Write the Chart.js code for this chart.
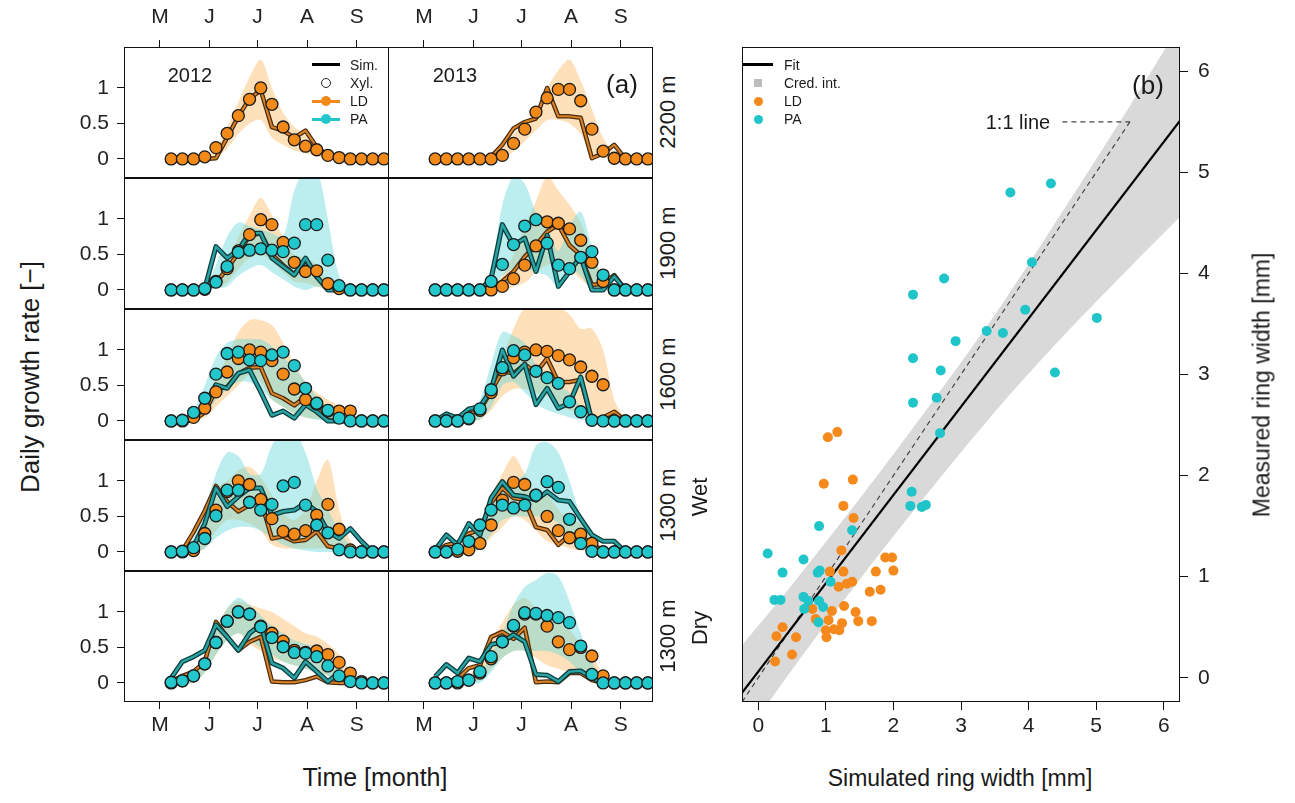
<!DOCTYPE html>
<html>
<head>
<meta charset="utf-8">
<script src="https://cdn.jsdelivr.net/npm/chart.js@4.4.1/dist/chart.umd.min.js"></script>
<style>
body { margin: 0; background: #fff; width: 1295px; height: 803px; overflow: hidden; position: relative;
  font-family: "Liberation Sans", Arial, sans-serif; color: #1a1a1a; }
canvas { position: absolute; z-index: 1; }
.t { position: absolute; white-space: nowrap; transform: translate(-50%, -50%); z-index: 2; }
.r { transform: translate(-50%, -50%) rotate(-90deg); }
.l { position: absolute; white-space: nowrap; transform: translateY(-50%); font-size: 14px; z-index: 2; }
.sym { position: absolute; z-index: 2; }
</style>
</head>
<body>

<div class="t r" style="left:30px;top:377px;font-size:26px">Daily growth rate [−]</div>
<div class="t" style="left:375px;top:777px;font-size:25px">Time [month]</div>
<div class="t" style="left:190px;top:75px;font-size:20px">2012</div>
<div class="t" style="left:455px;top:75px;font-size:20px">2013</div>
<div class="t" style="left:622px;top:84px;font-size:26px">(a)</div>

<div class="t r" style="left:668px;top:112px;font-size:22px">2200 m</div>
<div class="t r" style="left:668px;top:243px;font-size:22px">1900 m</div>
<div class="t r" style="left:668px;top:374px;font-size:22px">1600 m</div>
<div class="t r" style="left:668px;top:505px;font-size:22px">1300 m</div>
<div class="t r" style="left:700px;top:497px;font-size:22px">Wet</div>
<div class="t r" style="left:668px;top:636px;font-size:22px">1300 m</div>
<div class="t r" style="left:700px;top:628px;font-size:22px">Dry</div>

<!-- legend (a) -->
<div class="sym" style="left:312px;top:63px;width:28px;height:3px;background:#000"></div>
<div class="sym" style="left:321px;top:78px;width:10px;height:10px;border:1.5px solid #222;border-radius:50%;box-sizing:border-box"></div>
<div class="sym" style="left:312px;top:100px;width:28px;height:3px;background:#F28A1A"></div>
<div class="sym" style="left:321px;top:96px;width:10px;height:10px;background:#F28A1A;border-radius:50%"></div>
<div class="sym" style="left:312px;top:118px;width:28px;height:3px;background:#22C7CB"></div>
<div class="sym" style="left:321px;top:114px;width:10px;height:10px;background:#22C7CB;border-radius:50%"></div>
<div class="l" style="left:350px;top:65px">Sim.</div>
<div class="l" style="left:350px;top:83px">Xyl.</div>
<div class="l" style="left:350px;top:101px">LD</div>
<div class="l" style="left:350px;top:119px">PA</div>

<!-- panel (b) texts -->
<div class="t" style="left:1148px;top:85px;font-size:26px">(b)</div>
<div class="t" style="left:1018px;top:122px;font-size:20px">1:1 line</div>
<div class="t" style="left:960px;top:778px;font-size:23px">Simulated ring width [mm]</div>
<div class="t r" style="left:1262px;top:385px;font-size:23px">Measured ring width [mm]</div>

<div class="sym" style="left:743px;top:63px;width:30px;height:3px;background:#000"></div>
<div class="sym" style="left:754px;top:79px;width:8px;height:8px;background:#bdbdbd"></div>
<div class="sym" style="left:754px;top:97px;width:9px;height:9px;background:#F5891C;border-radius:50%"></div>
<div class="sym" style="left:754px;top:115px;width:9px;height:9px;background:#1FC5C9;border-radius:50%"></div>
<div class="l" style="left:784px;top:65px">Fit</div>
<div class="l" style="left:784px;top:83px">Cred. int.</div>
<div class="l" style="left:784px;top:101px">LD</div>
<div class="l" style="left:784px;top:119px">PA</div>

<script>
// ---- panel (a): weekly xylogenesis observations and simulations ----
const weekDoy = [128, 135, 142, 149, 156, 163, 170, 177, 184, 191, 198, 205, 212, 219, 226, 233, 240, 247, 254, 261];
const monthTickDoy = [121, 152, 182, 213, 244];
const monthLabels = ['M', 'J', 'J', 'A', 'S'];
const growthTicks = [0, 0.5, 1];
const growthTickLabels = ['0', '0.5', '1'];

// rows: 2200 m, 1900 m, 1600 m, 1300 m wet, 1300 m dry
const ldObs2012 = [
  [0,0,0,0.03,0.16,0.36,0.61,0.84,1.0,0.77,0.45,0.27,0.18,0.13,0.05,0.02,0,0,0,0],
  [0,0,0,0.01,0.12,0.3,0.55,0.78,0.99,0.92,0.67,0.39,0.26,0.27,0.09,0.02,0,0,0,0],
  [0,0,0.05,0.18,0.41,0.69,0.88,1.0,0.97,0.85,0.66,0.45,0.3,0.24,0.14,0.14,0.14,0,0,0],
  [0,0,0.02,0.26,0.59,0.85,1.0,0.95,0.74,0.47,0.29,0.25,0.3,0.52,0.67,0.32,0.03,0,0,0],
  [0,0.03,0.1,0.27,0.57,0.87,1.0,0.97,0.8,0.7,0.59,0.46,0.43,0.45,0.4,0.29,0.14,0.02,0,0]
];
const paObs2012 = [
  null,
  [0,0,0,0.02,0.11,0.33,0.53,0.56,0.58,0.56,0.54,0.66,0.92,0.92,0.42,0.06,0,0,0,0],
  [0,0.01,0.12,0.32,0.66,0.95,0.97,0.86,0.85,0.93,0.97,0.78,0.46,0.25,0.15,0.04,0,0,0,0],
  [0,0.01,0.06,0.19,0.51,0.87,0.87,0.7,0.59,0.67,0.93,0.98,0.66,0.38,0.27,0.03,0,0,0,0],
  [0.01,0.03,0.1,0.27,0.57,0.87,1.0,0.97,0.79,0.64,0.51,0.43,0.42,0.37,0.24,0.1,0.02,0,0,0]
];
const ldSim2012 = [
  [0,0,0,0,0.01,0.3,0.6,0.85,0.97,0.45,0.4,0.3,0.4,0.17,0.05,0.01,0,0,0,0],
  [0,0,0,0.01,0.1,0.3,0.52,0.76,0.8,0.5,0.35,0.22,0.42,0.18,0.02,0,0,0,0,0],
  [0,0,0.01,0.12,0.44,0.48,0.67,0.75,0.76,0.39,0.32,0.22,0.34,0.18,0.01,0,0,0,0,0],
  [0,0.02,0.28,0.58,0.93,0.71,0.57,0.66,0.73,0.19,0.22,0.15,0.17,0.29,0.08,0.05,0.02,0,0,0],
  [0.02,0.1,0.16,0.3,0.86,0.65,0.46,0.58,0.65,0.02,0.01,0.01,0.04,0.09,0.01,0,0,0,0,0]
];
const paSim2012 = [
  null,
  [0,0,0,0.02,0.61,0.45,0.56,0.8,0.8,0.45,0.33,0.21,0.45,0.19,0,0,0,0,0,0],
  [0,0,0.01,0.23,0.51,0.46,0.67,0.72,0.41,0.08,0.14,0.04,0.23,0.13,0,0,0,0,0,0],
  [0,0,0.08,0.4,0.9,0.64,0.78,0.9,0.9,0.52,0.57,0.59,0.69,0.57,0.29,0.19,0.33,0.15,0,0],
  [0.07,0.3,0.37,0.46,0.82,0.65,0.46,0.7,0.82,0.28,0.21,0.07,0.3,0.16,0.02,0.14,0.02,0,0,0]
];
const ldHi2012 = [
  [0,0,0,0.02,0.15,0.45,0.8,1.15,1.4,1.0,0.65,0.45,0.35,0.2,0.08,0.02,0,0,0,0],
  [0,0,0,0.02,0.1,0.4,0.75,1.05,1.3,1.05,0.75,0.5,0.45,0.35,0.12,0.03,0,0,0,0],
  [0,0,0.05,0.3,0.6,0.9,1.25,1.42,1.42,1.35,1.1,0.8,0.55,0.4,0.3,0.22,0.12,0.02,0,0],
  [0,0,0.15,0.5,0.9,1.0,1.15,1.2,1.05,0.8,0.55,0.45,0.6,1.0,1.3,0.6,0.15,0.03,0,0],
  [0,0,0.15,0.4,0.75,1.05,1.15,1.1,1.05,1.0,0.9,0.8,0.7,0.65,0.55,0.4,0.15,0.02,0,0]
];
const ldLo2012 = [
  [0,0,0,0,0.02,0.15,0.35,0.5,0.55,0.3,0.2,0.12,0.08,0.04,0.01,0,0,0,0,0],
  [0,0,0,0,0.02,0.1,0.3,0.45,0.5,0.4,0.25,0.12,0.1,0.05,0.01,0,0,0,0,0],
  [0,0,0,0.05,0.2,0.35,0.5,0.65,0.55,0.3,0.2,0.1,0.05,0.03,0.02,0.01,0,0,0,0],
  [0,0,0,0.05,0.3,0.45,0.45,0.4,0.3,0.1,0.05,0.05,0.05,0.05,0.05,0.02,0,0,0,0],
  [0,0,0,0.15,0.4,0.6,0.7,0.55,0.45,0.35,0.3,0.25,0.2,0.15,0.1,0.05,0,0,0,0]
];
const paHi2012 = [
  null,
  [0,0,0,0.05,0.35,0.75,0.95,0.9,0.85,0.8,0.75,1.4,1.7,1.7,1.0,0.2,0.02,0,0,0],
  [0,0.02,0.15,0.5,0.9,1.1,1.15,1.15,1.15,1.05,0.9,0.75,0.55,0.35,0.15,0.05,0,0,0,0],
  [0,0,0.2,0.6,1.1,1.4,1.35,1.1,1.1,1.5,1.7,1.7,1.4,0.9,0.6,0.3,0.1,0.02,0,0],
  [0,0,0.15,0.4,0.75,1.05,1.2,1.1,0.95,0.8,0.7,0.6,0.55,0.5,0.35,0.2,0.05,0,0,0]
];
const paLo2012 = [
  null,
  [0,0,0,0,0.02,0.05,0.2,0.3,0.35,0.25,0.15,0.05,0,0.05,0,0,0,0,0,0],
  [0,0,0,0.1,0.3,0.45,0.55,0.55,0.45,0.3,0.2,0.1,0.05,0.02,0,0,0,0,0,0],
  [0,0,0,0.05,0.2,0.3,0.35,0.35,0.3,0.2,0.1,0.05,0.02,0,0,0,0,0,0,0],
  [0,0,0,0.15,0.4,0.6,0.7,0.6,0.5,0.4,0.3,0.25,0.2,0.15,0.1,0.03,0,0,0,0]
];

const ldObs2013 = [
  [0,0,0,0,0,0,0.05,0.22,0.42,0.66,0.86,0.98,0.98,0.82,0.42,0.11,0.01,0,0,0],
  [0,0,0,0,0,0,0.05,0.16,0.35,0.62,0.96,0.94,0.86,0.7,0.39,0.12,0,0,0,0],
  [0,0,0,0.03,0.15,0.4,0.72,0.89,0.97,1.0,0.98,0.92,0.86,0.76,0.63,0.51,0,0,0,0],
  [0,0,0.01,0.03,0.12,0.38,0.73,0.98,0.95,0.8,0.5,0.3,0.2,0.25,0.12,0,0,0,0,0],
  [0,0,0,0.04,0.14,0.34,0.58,0.8,0.97,0.97,0.8,0.58,0.47,0.5,0.38,0.1,0,0,0,0]
];
const paObs2013 = [
  null,
  [0,0,0,0,0,0.12,0.36,0.64,0.9,0.99,0.66,0.35,0.3,0.46,0.54,0.21,0,0,0,0],
  [0,0,0,0.04,0.17,0.44,0.75,0.99,0.93,0.7,0.61,0.53,0.27,0.13,0.01,0,0,0,0,0],
  [0,0,0.04,0.15,0.38,0.59,0.66,0.62,0.66,0.8,0.99,0.91,0.46,0.12,0.01,0,0,0,0,0],
  [0,0,0.02,0.04,0.16,0.37,0.58,0.81,0.99,0.98,0.95,0.92,0.85,0.52,0.12,0,0,0,0,0]
];
const ldSim2013 = [
  [0,0,0,0,0,0.03,0.2,0.43,0.52,0.57,1.0,0.6,0.6,0.58,0.01,0.08,0.2,0,0,0],
  [0,0,0,0,0,0,0.12,0.26,0.47,0.63,0.82,0.92,0.63,0.49,0.07,0.09,0.21,0,0,0],
  [0,0.03,0.02,0.1,0.15,0.42,0.7,0.67,0.8,0.68,0.88,0.55,0.55,0.58,0.01,0.05,0.13,0,0,0],
  [0,0.1,0.13,0.26,0.31,0.69,0.9,0.76,0.73,0.35,0.31,0.1,0.24,0.24,0.1,0.03,0,0,0,0],
  [0,0.01,0.06,0.21,0.25,0.65,0.72,0.62,0.78,0.01,0.02,0.01,0.14,0.14,0.04,0,0,0,0,0]
];
const paSim2013 = [
  null,
  [0,0,0,0,0,0.16,0.92,0.63,0.73,0.26,0.77,0.05,0.26,0.47,0,0,0.19,0,0,0],
  [0,0.1,0.04,0.17,0.2,0.44,1.0,0.63,0.8,0.23,0.46,0.18,0.25,0.62,0,0,0.05,0,0,0],
  [0.03,0.24,0.1,0.4,0.24,0.76,0.99,0.8,0.78,0.73,0.85,0.73,0.71,0.47,0.24,0.15,0.15,0,0,0],
  [0.09,0.26,0.14,0.35,0.3,0.54,0.58,0.68,0.58,0.12,0.11,0.02,0.16,0.17,0.07,0,0,0,0,0]
];
const ldHi2013 = [
  [0,0,0,0,0,0.05,0.15,0.35,0.5,0.7,1.0,1.25,1.4,1.1,0.7,0.3,0.1,0.02,0,0],
  [0,0,0,0,0,0.05,0.2,0.5,0.9,1.25,1.6,1.4,1.2,0.95,0.5,0.2,0.05,0,0,0],
  [0,0,0,0.05,0.2,0.5,0.9,1.3,1.6,1.65,1.65,1.6,1.5,1.3,1.3,1.0,0.3,0.05,0,0],
  [0,0,0.05,0.2,0.4,0.8,1.1,1.35,1.1,0.85,0.8,0.6,0.45,0.4,0.2,0.05,0,0,0,0],
  [0,0,0,0.1,0.3,0.6,0.85,1.1,1.2,1.05,0.95,0.85,0.75,0.55,0.4,0.12,0.02,0,0,0]
];
const ldLo2013 = [
  [0,0,0,0,0,0,0.02,0.1,0.25,0.4,0.55,0.55,0.5,0.35,0.05,0.02,0,0,0,0],
  [0,0,0,0,0,0,0,0.05,0.1,0.25,0.35,0.4,0.3,0.15,0.03,0,0,0,0,0],
  [0,0,0,0,0.02,0.15,0.35,0.45,0.45,0.4,0.35,0.25,0.15,0.15,0.05,0.02,0,0,0,0],
  [0,0,0,0,0.05,0.2,0.35,0.5,0.45,0.3,0.15,0.1,0.05,0.02,0,0,0,0,0,0],
  [0,0,0,0,0.05,0.2,0.35,0.45,0.45,0.35,0.25,0.2,0.15,0.1,0.03,0,0,0,0,0]
];
const paHi2013 = [
  null,
  [0,0,0,0,0,0.3,1.2,1.6,1.5,1.1,0.9,0.55,0.9,1.1,0.6,0.15,0.05,0,0,0],
  [0,0,0,0.08,0.3,0.8,1.25,1.2,1.1,0.8,0.65,0.5,0.4,0.2,0.05,0,0,0,0,0],
  [0,0,0.05,0.15,0.4,0.8,1.0,1.0,1.1,1.5,1.55,1.4,1.0,0.5,0.15,0.03,0,0,0,0],
  [0,0,0,0,0.1,0.4,0.7,1.1,1.35,1.45,1.55,1.5,1.15,0.7,0.3,0.05,0,0,0,0]
];
const paLo2013 = [
  null,
  [0,0,0,0,0,0,0.2,0.3,0.3,0.25,0.2,0.05,0.3,0.2,0,0,0,0,0,0],
  [0,0,0,0,0.02,0.2,0.5,0.55,0.4,0.25,0.15,0.1,0.05,0.02,0,0,0,0,0,0],
  [0,0,0,0,0.05,0.25,0.45,0.5,0.5,0.5,0.5,0.4,0.2,0.05,0,0,0,0,0,0],
  [0,0,0,0,0,0.15,0.35,0.45,0.45,0.45,0.45,0.4,0.3,0.15,0.02,0,0,0,0,0]
];

// ---- panel (b): measured vs simulated ring width ----
const ringTicks = [0, 1, 2, 3, 4, 5, 6];
const ldSimWidth = [1.03,1.17,0.97,1.40,1.26,1.41,1.23,1.88,1.98,1.74,2.00,1.06,1.26,1.19,1.31,1.39,1.65,1.81,1.27,1.44,1.48,1.68,0.80,1.09,0.85,1.04,1.24,1.00,1.12,1.20,1.01,0.36,0.27,0.56,0.50,0.25];
const ldMeasWidth = [2.38,2.43,1.92,1.96,1.70,1.58,1.26,1.19,1.19,1.05,1.06,1.05,1.05,0.90,0.93,0.95,0.85,0.87,0.71,0.65,0.56,0.56,0.68,0.66,0.58,0.57,0.54,0.47,0.48,0.47,0.40,0.50,0.41,0.40,0.23,0.16];
const paSimWidth = [4.33,3.73,4.05,2.75,2.29,3.95,5.01,3.38,3.62,2.92,2.29,2.70,4.39,2.29,2.64,2.69,2.27,2.25,2.42,2.48,0.90,1.39,0.14,0.67,0.36,0.88,0.91,1.07,0.24,0.33,0.67,0.74,0.90,0.96,0.68,0.89];
const paMeasWidth = [4.89,4.80,4.11,3.95,3.79,3.64,3.56,3.43,3.41,3.33,3.16,3.04,3.02,2.72,2.77,2.42,1.84,1.70,1.69,1.71,1.50,1.46,1.23,1.17,1.04,1.04,1.06,0.95,0.77,0.77,0.80,0.76,0.76,0.70,0.68,0.55];
const fitX = [-0.24, 6.24];
const fitY = [-0.15, 5.51];
const oneToOneX = [-0.24, 5.5];
const oneToOneY = [-0.24, 5.5];
const leaderX = [4.5, 5.5];
const leaderY = [5.5, 5.5];
const credX = [-0.24, 0.5, 1.5, 2.5, 3.5, 4.5, 5.5, 6.24];
const credLo = [-0.62, 0.08, 0.97, 1.82, 2.63, 3.37, 4.06, 4.56];
const credHi = [0.32, 0.92, 1.77, 2.66, 3.59, 4.61, 5.66, 6.46];

const LD = '#F28A1A', PA = '#22C7CB';
const tickFont = { family: "'Liberation Sans', Arial, sans-serif", size: 21 };

const framePlugin = {
  id: 'frame',
  afterDraw(chart) {
    const a = chart.chartArea, ctx = chart.ctx;
    ctx.save();
    ctx.strokeStyle = '#111';
    ctx.lineWidth = 1;
    ctx.strokeRect(a.left + 0.5, a.top + 0.5, a.right - a.left - 1, a.bottom - a.top - 1);
    ctx.restore();
  }
};

const makeCanvas = (left, top, w, h) => {
  const c = document.createElement('canvas');
  c.width = w; c.height = h;
  c.style.left = left + 'px'; c.style.top = top + 'px';
  document.body.appendChild(c);
  return c;
};

const xy = (xs, ys) => ys.map((v, i) => ({ x: xs[i], y: v }));

// right column starts 1px left so the shared divider is a single line
const colLeft = [60, 388], colWidth = [329, 265];
const rowTop = [0, 178, 309, 440, 571], rowHeight = [178, 131, 131, 131, 176];

const lineSet = (vals, color, width, order) => ({
  data: xy(weekDoy, vals), borderColor: color, borderWidth: width, pointRadius: 0,
  tension: 0, fill: false, order: order, clip: 0, borderJoinStyle: 'round'
});
const pointSet = (vals, color, order) => ({
  data: xy(weekDoy, vals), showLine: false, pointRadius: 6, pointBackgroundColor: color,
  pointBorderColor: '#1a1a1a', pointBorderWidth: 1.3, order: order, clip: 0
});
const bandSets = (hi, lo, color, order) => [
  { data: xy(weekDoy, hi), borderWidth: 0, pointRadius: 0, tension: 0.3, fill: '+1',
    backgroundColor: color, order: order, clip: 0 },
  { data: xy(weekDoy, lo), borderWidth: 0, pointRadius: 0, tension: 0.3, fill: false,
    order: order, clip: 0 }
];

const yearData = [
  { ldObs: ldObs2012, paObs: paObs2012, ldSim: ldSim2012, paSim: paSim2012, ldHi: ldHi2012, ldLo: ldLo2012, paHi: paHi2012, paLo: paLo2012 },
  { ldObs: ldObs2013, paObs: paObs2013, ldSim: ldSim2013, paSim: paSim2013, ldHi: ldHi2013, ldLo: ldLo2013, paHi: paHi2013, paLo: paLo2013 }
];

for (let col = 0; col < 2; col++) {
  const d = yearData[col];
  for (let row = 0; row < 5; row++) {
    const cv = makeCanvas(colLeft[col], rowTop[row], colWidth[col], rowHeight[row]);
    let datasets = [];
    datasets = datasets.concat(bandSets(d.ldHi[row], d.ldLo[row], 'rgba(253,196,120,0.5)', 20));
    if (d.paHi[row]) datasets = datasets.concat(bandSets(d.paHi[row], d.paLo[row], 'rgba(95,212,218,0.42)', 19));
    datasets.push(lineSet(d.ldSim[row], '#4a2c0c', 4.5, 12));
    datasets.push(lineSet(d.ldSim[row], '#D9822A', 2, 11));
    if (d.paSim[row]) {
      datasets.push(lineSet(d.paSim[row], '#0c3c3e', 5, 10));
      datasets.push(lineSet(d.paSim[row], '#2AA3A3', 2.4, 9));
    }
    datasets.push(pointSet(d.ldObs[row], LD, 2));
    if (d.paObs[row]) datasets.push(pointSet(d.paObs[row], PA, 1));

    const showX = row === 0 || row === 4;
    const showY = col === 0;
    new Chart(cv, {
      type: 'line',
      data: { datasets: datasets },
      plugins: [framePlugin],
      options: {
        responsive: false, animation: false, events: [],
        layout: { padding: 0, autoPadding: false },
        plugins: { legend: { display: false }, tooltip: { enabled: false } },
        scales: {
          x: {
            type: 'linear', min: 98.5, max: 264.2,
            display: showX,
            position: row === 0 ? 'top' : 'bottom',
            afterBuildTicks: (s) => { s.ticks = monthTickDoy.map(v => ({ value: v })); },
            afterFit: (s) => {
              s.height = showX ? (row === 0 ? 47 : 45) : 0;
              s.paddingLeft = 0; s.paddingRight = 0;
            },
            ticks: { callback: (v, i) => monthLabels[i], font: tickFont, color: '#222',
              padding: row === 0 ? 10 : 4, maxRotation: 0, autoSkip: false },
            grid: { drawOnChartArea: false, tickLength: 7, tickColor: '#111', tickWidth: 1 },
            border: { display: false }
          },
          y: {
            type: 'linear', min: -0.268, max: 1.577,
            display: showY,
            afterBuildTicks: (s) => { s.ticks = growthTicks.map(v => ({ value: v })); },
            afterFit: (s) => {
              s.width = showY ? 64 : 0;
              s.paddingTop = 0; s.paddingBottom = 0;
            },
            ticks: { callback: (v, i) => growthTickLabels[i], font: tickFont, color: '#222', padding: 8 },
            grid: { drawOnChartArea: false, tickLength: 7, tickColor: '#111', tickWidth: 1 },
            border: { display: false }
          }
        }
      }
    });
  }
}

// panel (b)
const cvB = makeCanvas(700, 0, 560, 760);
new Chart(cvB, {
  type: 'line',
  data: {
    datasets: [
      { data: xy(paSimWidth, paMeasWidth), showLine: false, pointRadius: 5, pointBorderWidth: 0,
        pointBackgroundColor: '#1FC5C9', order: 0 },
      { data: xy(ldSimWidth, ldMeasWidth), showLine: false, pointRadius: 5, pointBorderWidth: 0,
        pointBackgroundColor: '#F5891C', order: 1 },
      { data: xy(fitX, fitY), borderColor: '#000', borderWidth: 2.2, pointRadius: 0, fill: false, order: 2, clip: 0 },
      { data: xy(oneToOneX, oneToOneY), borderColor: '#444', borderWidth: 1.2, borderDash: [5, 4],
        pointRadius: 0, fill: false, order: 3, clip: 0 },
      { data: xy(leaderX, leaderY), borderColor: '#444', borderWidth: 1.2, borderDash: [5, 4],
        pointRadius: 0, fill: false, order: 3, clip: 0 },
      { data: xy(credX, credHi), borderWidth: 0, pointRadius: 0, fill: '+1', tension: 0.3,
        backgroundColor: '#d9d9d9', order: 10, clip: 0 },
      { data: xy(credX, credLo), borderWidth: 0, pointRadius: 0, fill: false, tension: 0.3, order: 10, clip: 0 }
    ]
  },
  plugins: [framePlugin],
  options: {
    responsive: false, animation: false, events: [],
    layout: { padding: { left: 42, top: 47, right: 0, bottom: 0 }, autoPadding: false },
    plugins: { legend: { display: false }, tooltip: { enabled: false } },
    scales: {
      x: {
        type: 'linear', min: -0.24, max: 6.24, position: 'bottom',
        afterBuildTicks: (s) => { s.ticks = ringTicks.map(v => ({ value: v })); },
        afterFit: (s) => { s.height = 58; s.paddingLeft = 0; s.paddingRight = 0; },
        ticks: { font: tickFont, color: '#222', padding: 4, maxRotation: 0 },
        grid: { drawOnChartArea: false, tickLength: 8, tickColor: '#111' },
        border: { display: false }
      },
      y: {
        type: 'linear', min: -0.24, max: 6.24, position: 'right',
        afterBuildTicks: (s) => { s.ticks = ringTicks.map(v => ({ value: v })); },
        afterFit: (s) => { s.width = 80; s.paddingTop = 0; s.paddingBottom = 0; },
        ticks: { font: tickFont, color: '#222', padding: 10 },
        grid: { drawOnChartArea: false, tickLength: 8, tickColor: '#111' },
        border: { display: false }
      }
    }
  }
});
</script>
</body>
</html>
